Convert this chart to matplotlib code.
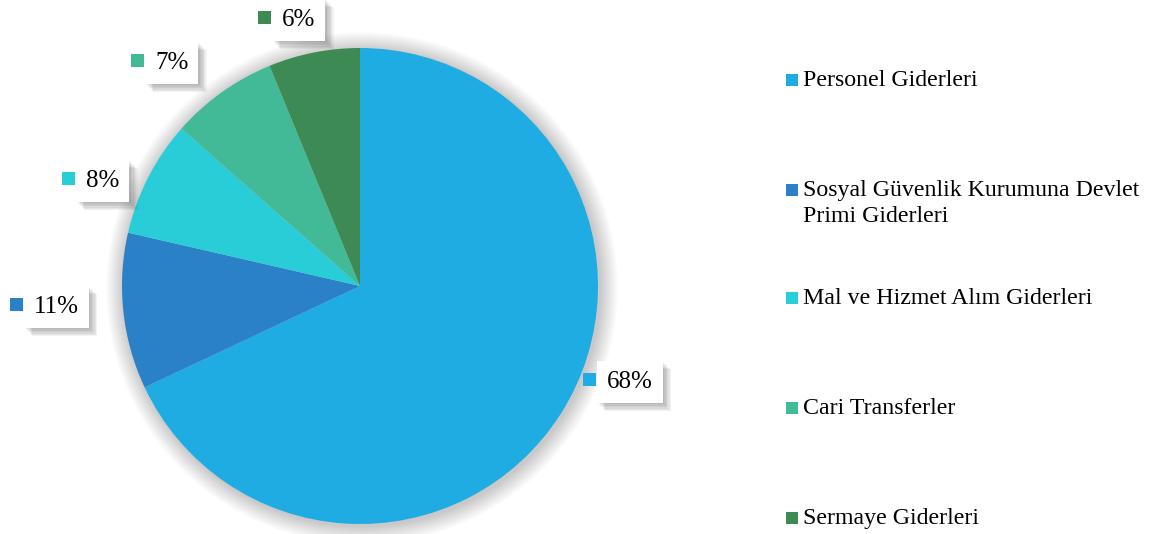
import matplotlib
matplotlib.use('Agg')
import matplotlib.pyplot as plt
import matplotlib.patches as patches
import matplotlib.patheffects as pe

plt.rcParams['font.family'] = ['Liberation Serif', 'DejaVu Serif']

# data
categories = ['Personel Giderleri',
              'Sosyal Güvenlik Kurumuna Devlet\nPrimi Giderleri',
              'Mal ve Hizmet Alım Giderleri',
              'Cari Transferler',
              'Sermaye Giderleri']
shares = [68.0, 10.6, 7.9, 7.3, 6.2]
colors = ['#1facE3', '#2a81c7', '#29cdd8', '#42ba97', '#3d8a55']

# label spots (pixel coords, y from top): marker x, y
label_pos = [(589, 379), (16, 304), (68, 178), (137, 60), (264, 17)]
legend_y = [80, 190, 298, 408, 518]

W, H = 1155, 534
fig = plt.figure(figsize=(W / 100, H / 100), dpi=100)
ax = fig.add_axes([0, 0, 1, 1])

cx, cy, r = 360, H - 286, 238

# soft glow behind the pie
for k in range(18, 0, -1):
    ax.add_patch(patches.Circle((cx + 2, cy - 2), r + k, facecolor='black',
                                edgecolor='none', alpha=0.011, zorder=1))

ax.pie(shares, colors=colors, startangle=90, counterclock=False,
       center=(cx, cy), radius=r, frame=True,
       wedgeprops=dict(edgecolor='none', zorder=2))
ax.set_xlim(0, W)
ax.set_ylim(0, H)
ax.set_aspect('equal')
ax.axis('off')

msize = 13
shadow = [pe.SimplePatchShadow(offset=(o, -o), shadow_rgbFace='black', alpha=0.05)
          for o in (6, 5, 4, 3, 2, 1)] + [pe.Normal()]

for val, col, (mx, my) in zip(shares, colors, label_pos):
    y = H - my
    ax.add_patch(patches.Rectangle((mx - msize / 2, y - msize / 2), msize, msize,
                                   facecolor=col, edgecolor='none', zorder=5))
    t = ax.text(mx + 18, y - 9, f'{round(val)}%', fontsize=18, ha='left', va='baseline',
                zorder=6, bbox=dict(boxstyle='square,pad=0.4', facecolor='white',
                                    edgecolor='none'))
    t.get_bbox_patch().set_path_effects(shadow)

# legend
for lab, col, ly in zip(categories, colors, legend_y):
    y = H - ly
    ax.add_patch(patches.Rectangle((786, y - 6), 12, 12, facecolor=col,
                                   edgecolor='none', zorder=5))
    for i, line in enumerate(lab.split('\n')):
        ax.text(803, y - 6 - 26 * i, line, fontsize=17.2, ha='left', va='baseline')

fig.savefig('out.png', dpi=100)
